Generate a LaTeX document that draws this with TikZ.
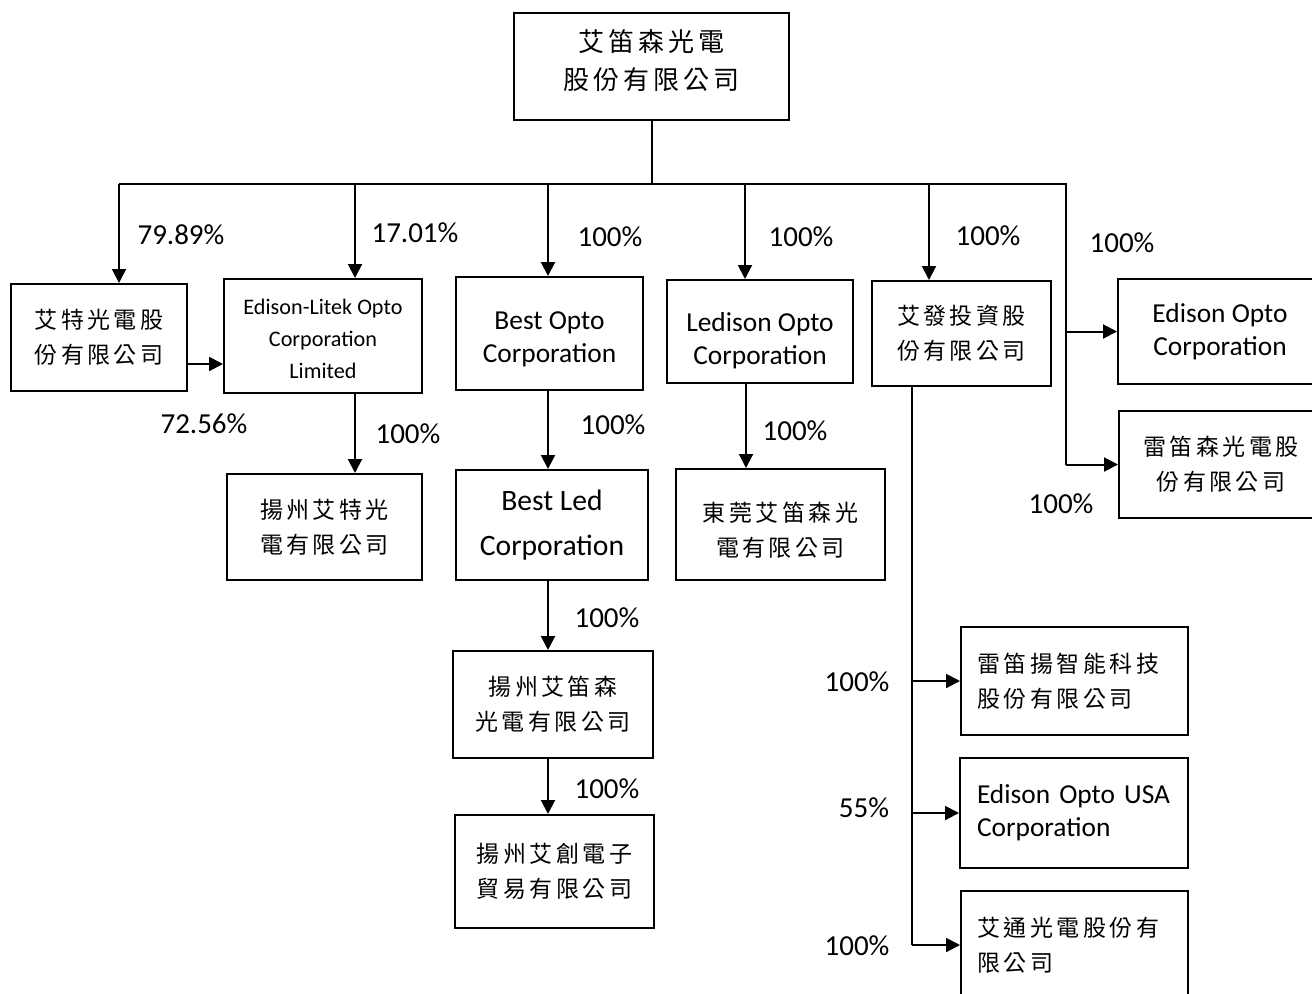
\documentclass[tikz,border=0pt]{standalone}
\usepackage{fontspec}
\setmainfont{Carlito}
\newfontfamily\cjkfont[LetterSpace=15]{Noto Sans CJK TC}
\usetikzlibrary{positioning}
\usetikzlibrary{arrows.meta}
\tikzset{firm node/.style={draw,line width=1pt,align=center,inner sep=0pt},
	latin/.style={font=\fontsize{13.7}{16.5}\selectfont},
	cjk/.style={font=\cjkfont\fontsize{11.5}{17.5}\selectfont},
	pct/.style={inner sep=0pt,font=\fontsize{14.5}{17}\selectfont},}

\begin{document}
\begin{tikzpicture}[->, >={Triangle[length=7pt,width=7pt]}, line width=1pt, x=0.5pt, y=-0.5pt]
	\useasboundingbox (0,0) rectangle (1312,993);
	% top company
	\node[firm node, font=\cjkfont\fontsize{13}{19}\selectfont, minimum width=137.5pt, minimum height=53.5pt] (edison) at (651.5,66.5) {艾笛森光電\\股份有限公司\rule[-7pt]{0pt}{7pt}};
	% first level
	\node[firm node, cjk, minimum width=88pt, minimum height=53.5pt] (aite) at (99,337.5) {艾特光電股\\份有限公司};
	\node[firm node, font=\fontsize{11.1}{16}\selectfont, minimum width=99pt, minimum height=57pt] (litek) at (323,336) {\rule{0pt}{11pt}Edison-Litek Opto\\Corporation\\Limited};
	\node[firm node, latin, minimum width=93.5pt, minimum height=56.5pt] (bestopto) at (549.5,333.5) {\rule{0pt}{15pt}Best Opto\\Corporation};
	\node[firm node, latin, minimum width=93pt, minimum height=51.5pt] (ledison) at (760,331.5) {\rule{0pt}{18.5pt}Ledison Opto\\Corporation};
	\node[firm node, cjk, minimum width=89.5pt, minimum height=52.5pt] (aifa) at (961.5,333.5) {艾發投資股\\份有限公司};
	\node[firm node, latin, minimum width=102pt, minimum height=52.5pt] (eoc) at (1220,331.5) {Edison Opto\\Corporation};
	\node[firm node, cjk, minimum width=102pt, minimum height=53.5pt] (leidi) at (1221,464.5) {雷笛森光電股\\份有限公司};
	% second level
	\node[firm node, cjk, minimum width=97.5pt, minimum height=53pt] (yzaite) at (324.5,527) {揚州艾特光\\電有限公司};
	\node[firm node, font=\fontsize{14.8}{22.5}\selectfont, minimum width=96pt, minimum height=55pt] (bestled) at (552,525) {Best Led\\Corporation};
	\node[firm node, cjk, minimum width=104.5pt, minimum height=55.5pt] (dongguan) at (780.5,524.5) {\rule{0pt}{15pt}東莞艾笛森光\\電有限公司};
	\node[firm node, cjk, minimum width=100pt, minimum height=53.5pt] (yzedison) at (553,704.5) {揚州艾笛森\\光電有限公司};
	\node[firm node, cjk, minimum width=99.5pt, minimum height=56.5pt] (yzaichuang) at (554.5,871.5) {揚州艾創電子\\貿易有限公司};
	% under aifa
	\node[firm node, cjk, align=left, text width=97pt, minimum width=113.5pt, minimum height=54pt] (leidiyang) at (1074.5,681) {雷笛揚智能科技\\股份有限公司};
	\node[firm node, latin, align=left, text width=97pt, minimum width=114pt, minimum height=55pt] (usa) at (1074,813) {\mbox{Edison Opto USA}\\Corporation};
	\node[firm node, cjk, align=left, text width=97pt, minimum width=113.5pt, minimum height=54pt] (aitong) at (1074.5,945) {艾通光電股份有\\限公司};

	% bus lines
	\coordinate (bus) at (654,184);
	\coordinate (busL) at (119,184);
	\coordinate (busR) at (1066,184);
	\coordinate (trunk) at (912,0);
	\draw[-] (edison.south) -- (edison.south |- bus);
	\draw[-] (busL) -- (busR) -- (busR |- leidi);
	\draw[-] (aifa.south -| trunk) -- (aitong.west -| trunk);

	\path
	(busL) edge (busL |- aite.north)
	(bus -| 355,0) edge (litek.north -| 355,0)
	(bus -| 548,0) edge (bestopto.north -| 548,0)
	(bus -| 745,0) edge (ledison.north -| 745,0)
	(bus -| 929,0) edge (aifa.north -| 929,0)
	(busR |- eoc) edge (eoc)
	(busR |- leidi) edge (leidi)
	(aite.east |- 0,364) edge (litek.west |- 0,364)
	(litek.south -| 355,0) edge (yzaite.north -| 355,0)
	(bestopto.south -| 548,0) edge (bestled.north -| 548,0)
	(ledison.south -| 746,0) edge (dongguan.north -| 746,0)
	(bestled.south -| 548,0) edge (yzedison.north -| 548,0)
	(yzedison.south -| 548,0) edge (yzaichuang.north -| 548,0)
	(leidiyang.west -| trunk) edge (leidiyang.west)
	(usa.west -| trunk) edge (usa.west)
	(aitong.west -| trunk) edge (aitong.west);

	% shares
	\node[pct] (p1) at (181,235) {79.89\%};
	\node[pct] (p2) at (415,233) {17.01\%};
	\node[pct] (p3) at (610,237) {100\%};
	\node[pct] (p4) at (801,237) {100\%};
	\node[pct] (p5) at (988,236) {100\%};
	\node[pct] (p6) at (1122,243) {100\%};
	\node[pct] (p7) at (1061,504) {100\%};
	\node[pct] (p8) at (204,424) {72.56\%};
	\node[pct] (p9) at (408,434) {100\%};
	\node[pct] (p10) at (613,425) {100\%};
	\node[pct] (p11) at (795,431) {100\%};
	\node[pct] (p12) at (607,618) {100\%};
	\node[pct] (p13) at (607,789) {100\%};
	\node[pct] (p14) at (857,682) {100\%};
	\node[pct] (p15) at (864,808) {55\%};
	\node[pct] (p16) at (857,946) {100\%};
\end{tikzpicture}
\end{document}
